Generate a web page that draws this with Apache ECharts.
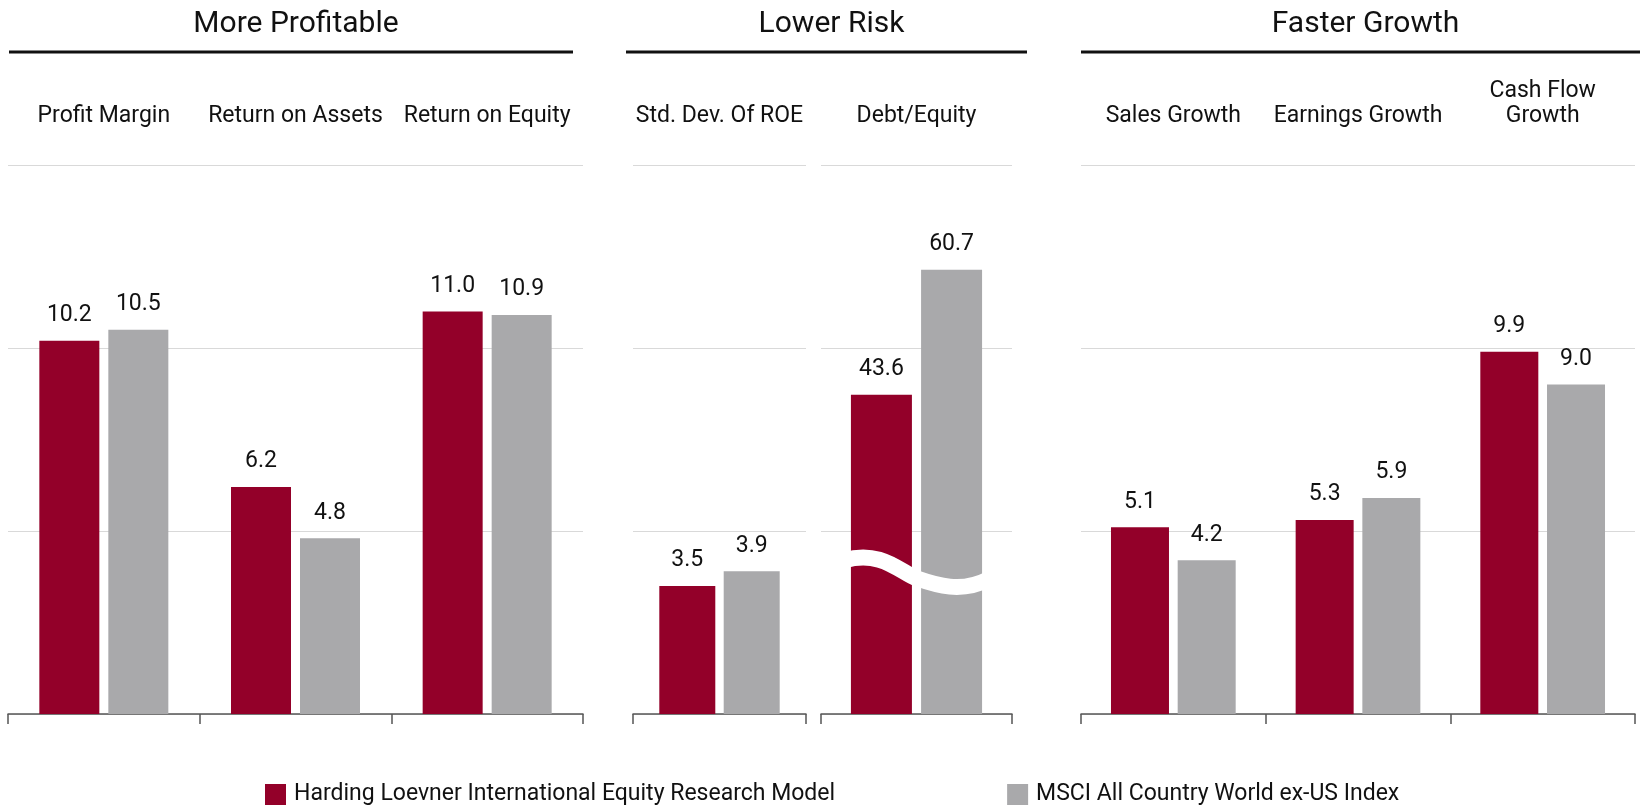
<!DOCTYPE html>
<html>
<head>
<meta charset="utf-8">
<script src="https://cdn.jsdelivr.net/npm/echarts@6/dist/echarts.min.js"></script>
<style>
    html,body{margin:0;padding:0;background:#fff;}
    #main{width:1640px;height:805px;}
</style>
</head>
<body>
<div id="main"></div>
<script>
/** 数据 */
let seriesNames = ["Harding Loevner International Equity Research Model","MSCI All Country World ex-US Index"]
let groupTitles = ["More Profitable","Lower Risk","Faster Growth"]

let profitCats = ["Profit Margin","Return on Assets","Return on Equity"]
let profitModel = [10.2,6.2,11.0]
let profitIndex = [10.5,4.8,10.9]

let riskCats = ["Std. Dev. Of ROE"]
let riskModel = [3.5]
let riskIndex = [3.9]

let debtCats = ["Debt/Equity"]
let debtModel = [43.6]
let debtIndex = [60.7]
let debtBreak = [19.5]

let growthCats = ["Sales Growth","Earnings Growth","Cash Flow\nGrowth"]
let growthModel = [5.1,5.3,9.9]
let growthIndex = [4.2,5.9,9.0]

let yMax = [15,15,75,15]
let yStep = [5,5,25,5]

/** 样式 */
const RED = "#930029"
const GREY = "#a9a9ab"
const FONT = "Roboto"
const TOP = 165, BOTTOM = 91

let grids = [
    {left:8,width:575,barWidth:60},
    {left:633,width:173,barWidth:56},
    {left:821,width:191,barWidth:61},
    {left:1081,width:554,barWidth:58}
]
let panels = [
    {cats:profitCats,model:profitModel,index:profitIndex},
    {cats:riskCats,model:riskModel,index:riskIndex},
    {cats:debtCats,model:debtModel,index:debtIndex},
    {cats:growthCats,model:growthModel,index:growthIndex}
]
/** 标题横线 */
let titleLines = [[9,573],[626,1027],[1081,1640]]

let chart = echarts.init(document.getElementById("main"))

let xAxis = [], yAxis = [], series = []
panels.forEach((p,i)=>{
    xAxis.push({
        type:"category",gridIndex:i,data:p.cats,position:"bottom",
        axisLine:{lineStyle:{color:"#555",width:1.5}},
        axisTick:{show:true,length:10,lineStyle:{color:"#555",width:1.5}},
        axisLabel:{show:false}
    })
    xAxis.push({
        type:"category",gridIndex:i,data:p.cats,position:"top",
        axisLine:{show:false},axisTick:{show:false},
        axisLabel:{interval:0,margin:36,color:"#111",fontFamily:FONT,fontSize:23,lineHeight:25}
    })
    yAxis.push({
        type:"value",gridIndex:i,min:0,max:yMax[i],interval:yStep[i],
        axisLabel:{show:false},axisLine:{show:false},axisTick:{show:false},
        splitLine:{lineStyle:{color:"#d9d9d9",width:1.2}}
    })
    let label = {
        show:true,position:"top",distance:14,color:"#111",fontFamily:FONT,fontSize:23,
        formatter:v=>v.value.toFixed(1)
    }
    series.push({
        name:seriesNames[0],type:"bar",xAxisIndex:i*2,yAxisIndex:i,data:p.model,
        barWidth:grids[i].barWidth,barGap:"15%",itemStyle:{color:RED},label:label,silent:true
    })
    series.push({
        name:seriesNames[1],type:"bar",xAxisIndex:i*2,yAxisIndex:i,data:p.index,
        barWidth:grids[i].barWidth,barGap:"15%",itemStyle:{color:GREY},label:label,silent:true
    })
})

/** Debt/Equity 断轴标记 */
series.push({
    type:"custom",xAxisIndex:4,yAxisIndex:2,z:10,silent:true,
    data:debtBreak.map(v=>[0,v]),
    renderItem:(params,api)=>{
        let pt = api.coord([api.value(0),api.value(1)])
        let cx = pt[0], yc = pt[1]
        return {
            type:"path",
            shape:{pathData:"M"+(cx-72)+" "+(yc-11)+" C"+(cx-35)+" "+(yc-22)+" "+(cx-15)+" "+(yc+2)+" "+cx+" "+(yc+7)+
                " C"+(cx+20)+" "+(yc+14)+" "+(cx+45)+" "+(yc+22)+" "+(cx+72)+" "+(yc+8)},
            style:{fill:"none",stroke:"#fff",lineWidth:16}
        }
    }
})

let option = {
    backgroundColor:"#fff",
    animation:false,
    title:groupTitles.map((t,i)=>({
        text:t,left:(titleLines[i][0]+titleLines[i][1])/2,top:4,textAlign:"center",
        textStyle:{fontFamily:FONT,fontSize:30,fontWeight:"normal",color:"#111"}
    })),
    graphic:titleLines.map(l=>({
        type:"line",shape:{x1:l[0],y1:52,x2:l[1],y2:52},style:{stroke:"#111",lineWidth:3}
    })),
    legend:{
        data:seriesNames,left:265,top:783,padding:0,itemGap:172,itemWidth:21,itemHeight:21,icon:"rect",
        selectedMode:false,
        textStyle:{fontFamily:FONT,fontSize:23,color:"#111",padding:[0,0,0,3]}
    },
    grid:grids.map(g=>({left:g.left,width:g.width,top:TOP,bottom:BOTTOM})),
    xAxis:xAxis,
    yAxis:yAxis,
    series:series
}
chart.setOption(option)
</script>
</body>
</html>
